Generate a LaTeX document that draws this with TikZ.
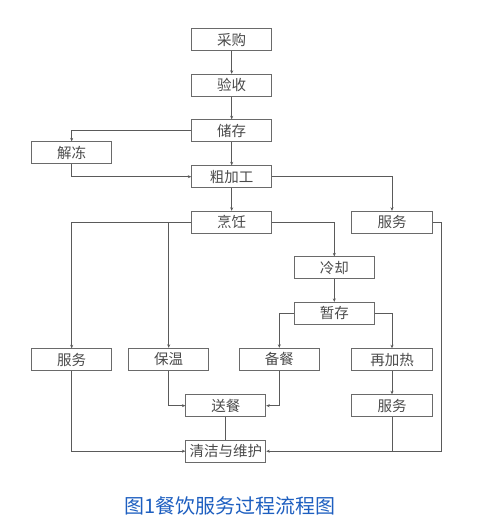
\documentclass[tikz,border=0pt]{standalone}
\usepackage{fontspec}
\newfontfamily\cjk{Noto Sans CJK SC}
\usetikzlibrary{arrows.meta,calc,positioning}
\definecolor{Frame}{HTML}{6A6A6A}
\definecolor{Wire}{HTML}{5A5A5A}
\definecolor{Ink}{HTML}{4A4A4A}
\definecolor{Caption}{HTML}{1E5FC0}

\begin{document}
\begin{tikzpicture}[x=1pt, y=-1pt,
  stepbox/.style={draw=Frame, line width=0.8pt, minimum width=80pt, minimum height=22pt,
    inner sep=0pt, text=Ink, font=\cjk\fontsize{14.5}{15}\selectfont},
  link/.style={draw=Wire, line width=0.7pt, -{Stealth[length=3.5pt,width=3pt]}},
  plain/.style={draw=Wire, line width=0.7pt}]
  \useasboundingbox (0,0) rectangle (486,517);

  % main column
  \node[stepbox] (caigou)   at (231.7,39.5)  {采购};
  \node[stepbox] (yanshou)  at (231.7,85.2)  {验收};
  \node[stepbox] (chucun)   at (231.7,130.7) {储存};
  \node[stepbox] (jiedong)  at (71.7,152.8)  {解冻};
  \node[stepbox] (cujiagong) at (231.7,176.7) {粗加工};
  \node[stepbox] (pengren)  at (231.7,222.2) {烹饪};
  \node[stepbox, minimum width=81pt] (fuwuA) at (392,222.2) {服务};
  \node[stepbox] (lengque)  at (334.3,267.8) {冷却};
  \node[stepbox] (zancun)   at (334.3,313.3) {暂存};

  % lower row
  \node[stepbox] (fuwuB)    at (71.7,359.7)  {服务};
  \node[stepbox] (baowen)   at (168.7,359.2) {保温};
  \node[stepbox] (beican)   at (279.3,359.2) {备餐};
  \node[stepbox, minimum width=81pt] (jiare) at (392,359.7) {再加热};
  \node[stepbox] (songcan)  at (225.8,405.7) {送餐};
  \node[stepbox, minimum width=81pt] (fuwuC) at (392,405.7) {服务};
  \node[stepbox] (qingjie)  at (225.8,451.2) {清洁与维护};

  \node[font=\cjk\fontsize{20}{20}\selectfont, text=Caption] (title) at (230.2,506) {图1餐饮服务过程流程图};

  \draw[link] (caigou) -- (yanshou);
  \draw[link] (yanshou) -- (chucun);
  \draw[link] (chucun) -- (cujiagong);
  \draw[link] (chucun.west) -| (jiedong.north);
  \draw[link] (jiedong.south) |- (cujiagong.west);
  \draw[link] (cujiagong.east) -| (fuwuA.north);
  \draw[link] (cujiagong) -- (pengren);

  \draw[link] (pengren.west) -| (fuwuB.north);
  \draw[link] (pengren.west) -| (baowen.north);
  \draw[link] (pengren.east) -| (lengque.north);
  \draw[link] (lengque) -- (zancun);
  \draw[link] (zancun.west) -| (beican.north);
  \draw[link] (zancun.east) -| (jiare.north);

  \draw[link] (baowen.south) |- (songcan.west);
  \draw[link] (beican.south) |- (songcan.east);
  \draw[link] (jiare) -- (fuwuC);
  \draw[plain] (songcan) -- (qingjie);

  \draw[link] (fuwuB.south) |- (qingjie.west);
  \draw[link] (fuwuA.east) -- ++(8.4,0) |- (qingjie.east);
  \draw[plain] (fuwuC.south) -- (fuwuC.south |- qingjie.east);
\end{tikzpicture}
\end{document}
